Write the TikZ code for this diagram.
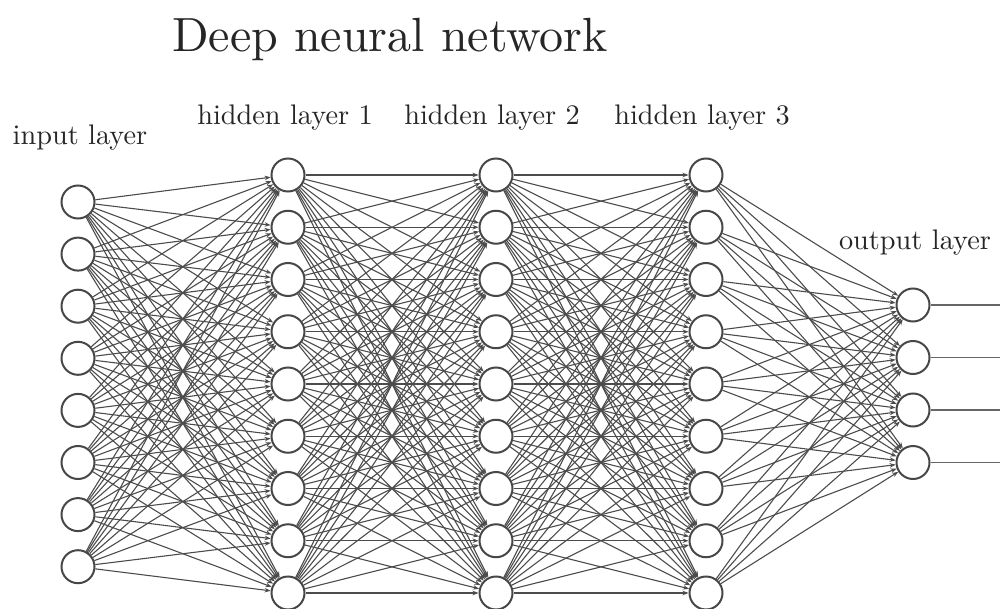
\documentclass[tikz,border=0pt]{standalone}
\usepackage{fontspec}
\setmainfont{lmroman10-regular.otf}
\usetikzlibrary{arrows.meta}
\begin{document}
\begin{tikzpicture}[x=1pt,y=-1pt,
  neuron/.style={circle,draw=black!72,line width=2pt,fill=white,minimum size=33pt,inner sep=0pt},
  conn/.style={draw=black!70,line width=1.1pt,-{Stealth[length=6pt,width=4.5pt]}},
  outl/.style={draw=black!60,line width=1.8pt,-{Stealth[length=8pt,width=6pt]}},
  lbl/.style={font=\fontsize{28.3}{30}\selectfont,anchor=base,text=black!85,inner sep=0pt},
  ttl/.style={font=\fontsize{48}{52}\selectfont,anchor=base,text=black!85,inner sep=0pt}]
\useasboundingbox (0,0) rectangle (1000,609);
\clip (0,0) rectangle (1000,609);
% nodes
\foreach \i in {1,...,8} \node[neuron] (I\i) at (78,{202+(\i-1)*52.1}) {};
\foreach \i in {1,...,9} {
  \node[neuron] (A\i) at (288,{175+(\i-1)*52.25}) {};
  \node[neuron] (B\i) at (496,{175+(\i-1)*52.25}) {};
  \node[neuron] (C\i) at (706,{175+(\i-1)*52.25}) {};
}
\foreach \i in {1,...,4} \node[neuron] (O\i) at (913,{305+(\i-1)*52.5}) {};
% connections
\foreach \i in {1,...,8} \foreach \j in {1,...,9} \draw[conn] (I\i) -- (A\j);
\foreach \i in {1,...,9} \foreach \j in {1,...,9} {
  \draw[conn] (A\i) -- (B\j);
  \draw[conn] (B\i) -- (C\j);
}
\foreach \i in {1,...,9} \foreach \j in {1,...,4} \draw[conn] (C\i) -- (O\j);
\foreach \i in {1,...,4} {
  \coordinate (E\i) at (1012,{305+(\i-1)*52.5});
  \draw[outl] (O\i) -- (E\i);
}
% labels
\node[ttl] (title) at (390,52) {Deep neural network};
\node[lbl] (lin) at (80,145) {input layer};
\node[lbl] (lh1) at (285,125) {hidden layer 1};
\node[lbl] (lh2) at (492,125) {hidden layer 2};
\node[lbl] (lh3) at (702,125) {hidden layer 3};
\node[lbl] (lout) at (915,250) {output layer};
\end{tikzpicture}
\end{document}
